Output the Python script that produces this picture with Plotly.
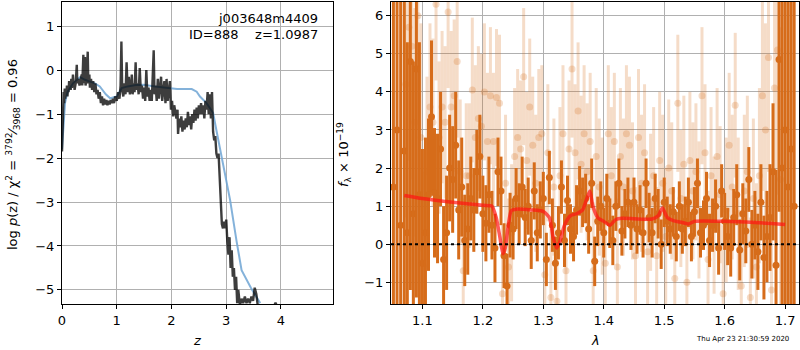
import plotly.graph_objects as go

# ---------------- Left panel: redshift probability ----------------
z_a = [0.00, 0.01, 0.02, 0.03, 0.04, 0.05, 0.06, 0.07, 0.08, 0.09,
       0.10, 0.11, 0.12, 0.13, 0.14, 0.15, 0.16, 0.17, 0.18, 0.19,
       0.20, 0.21, 0.22, 0.23, 0.25, 0.27, 0.28, 0.30, 0.32, 0.34,
       0.36, 0.37, 0.39, 0.40, 0.42, 0.43, 0.45, 0.47, 0.48, 0.50,
       0.51, 0.53, 0.55, 0.57, 0.59, 0.61, 0.63, 0.65, 0.67, 0.69,
       0.71, 0.73, 0.75, 0.77, 0.79, 0.81, 0.83, 0.85, 0.87, 0.89,
       0.91, 0.93, 0.95, 0.97, 0.99]
logp_a = [-1.85, -1.2, -0.8, -0.5, -0.75, -0.42, -0.65, -0.45, -0.55, -0.35,
          -0.6, -0.4, -0.5, -0.25, -0.45, -0.3, -0.45, -0.2, -0.4, -0.35,
          -0.1, -0.35, -0.25, -0.45, -0.3, 0.12, -0.3, -0.2, -0.35, -0.2,
          -0.1, -0.35, 0.35, -0.3, 0.3, -0.35, -0.2, 0.42, -0.3, -0.1,
          -0.4, -0.2, -0.45, -0.25, -0.5, -0.3, -0.55, -0.45, -0.65, -0.5,
          -0.75, -0.6, -0.8, -0.65, -0.78, -0.68, -0.8, -0.7, -0.78, -0.68,
          -0.75, -0.65, -0.75, -0.6, -0.7]
z_b = [1.00, 1.025, 1.05, 1.07, 1.085, 1.10, 1.12, 1.14, 1.16, 1.18,
       1.20, 1.22, 1.24, 1.26, 1.275, 1.29, 1.31, 1.325, 1.345, 1.36,
       1.38, 1.40, 1.42, 1.44, 1.46, 1.48, 1.50, 1.52, 1.54, 1.56,
       1.58, 1.60, 1.62, 1.64, 1.655, 1.675, 1.69, 1.71, 1.73, 1.75,
       1.77, 1.79, 1.81, 1.83, 1.85, 1.87, 1.89, 1.91, 1.93, 1.95,
       1.97, 1.99, 2.00]
logp_b = [-0.7, -0.5, -0.65, -0.35, 0.65, -0.45, -0.6, -0.3, -0.55, 0.18,
          -0.5, -0.15, -0.55, -0.35, -0.1, -0.55, -0.3, -0.5, 0.18, -0.45,
          -0.3, -0.55, 0.05, -0.5, -0.35, -0.65, -0.4, -0.7, 0.0, -0.6,
          -0.4, -0.7, -0.45, -0.7, -0.3, 0.45, -0.55, -0.35, -0.7, -0.2,
          -0.65, -0.4, -0.15, -0.7, -0.45, -0.25, -0.75, -0.2, -0.7, -0.5,
          -0.25, -0.9, -0.8]
z_c = [2.01, 2.03, 2.05, 2.07, 2.09, 2.11, 2.12,
       2.14, 2.16, 2.18, 2.20, 2.22, 2.24, 2.26, 2.28, 2.30, 2.32,
       2.34, 2.36, 2.38, 2.40, 2.42, 2.44, 2.46, 2.48, 2.50, 2.52,
       2.54, 2.56, 2.58, 2.60, 2.62, 2.64, 2.66, 2.68, 2.70, 2.72,
       2.74, 2.76, 2.78, 2.80, 2.82, 2.84, 2.86, 2.88, 2.90, 2.92,
       2.94, 2.96, 2.98, 3.00, 3.02, 3.04, 3.06, 3.08, 3.10, 3.12,
       3.14, 3.16, 3.18, 3.20, 3.22, 3.25, 3.28, 3.31, 3.34, 3.37,
       3.40, 3.43, 3.46, 3.49, 3.52, 3.55, 3.58]
logp_c = [-0.7, -1.05, -0.8, -0.95, -1.1, -0.9, -1.45,
          -1.1, -1.3, -1.05, -1.4, -1.15, -1.35, -1.1, -1.3, -0.95, -1.25,
          -1.05, -1.35, -1.0, -1.2, -0.9, -1.15, -0.85, -1.1, -0.8, -1.0,
          -0.75, -1.0, -0.8, -1.1, -0.7, -0.9, -0.5, -1.0, -0.55, -1.1,
          -0.5, -1.4, -1.6, -1.5, -1.9, -2.0, -1.9, -2.5, -3.0, -3.5,
          -3.6, -3.45, -3.6, -3.4, -3.9, -4.2, -3.8, -4.5, -4.1, -4.7,
          -4.5, -5.0, -4.7, -5.3, -5.0, -5.35, -5.2, -5.3, -5.15, -5.3,
          -5.2, -5.3, -5.15, -5.25, -4.95, -5.1, -5.4]
z_tail = [3.88, 3.90, 3.92]
logp_tail = [-5.35, -5.29, -5.35]

z_smooth = [0.00, 0.03, 0.055, 0.1, 0.2, 0.33, 0.42, 0.51, 0.6, 0.69,
            0.8, 0.88, 1.0, 1.09, 1.2, 1.35, 1.49, 1.7, 1.91, 2.1,
            2.22, 2.37, 2.46, 2.52, 2.64, 2.76, 2.83, 2.92, 3.0, 3.07,
            3.19, 3.28, 3.45, 3.62]
logp_smooth = [-1.8, -1.1, -0.75, -0.5, -0.3, -0.16, -0.22, -0.26, -0.3, -0.37,
               -0.55, -0.64, -0.6, -0.41, -0.37, -0.34, -0.33, -0.37, -0.41, -0.43,
               -0.43, -0.43, -0.49, -0.6, -0.75, -0.97, -1.43, -1.97, -2.5, -2.95,
               -3.9, -4.55, -4.95, -5.3]

# ---------------- Right panel: spectrum ----------------
dark_wave = [1.052, 1.058, 1.064,
             1.070, 1.075, 1.080, 1.085, 1.090, 1.095, 1.100, 1.105, 1.110, 1.115,
             1.120, 1.125, 1.130, 1.135, 1.140, 1.145, 1.150, 1.155, 1.160, 1.165,
             1.170, 1.175, 1.180, 1.185, 1.190, 1.195, 1.200, 1.205, 1.210, 1.215,
             1.220, 1.225, 1.230, 1.235, 1.240, 1.245, 1.250, 1.255, 1.260, 1.265,
             1.270, 1.275, 1.280, 1.285, 1.290, 1.295, 1.300, 1.305, 1.310, 1.315,
             1.320, 1.325, 1.330, 1.335, 1.340, 1.345, 1.350, 1.355, 1.360, 1.365,
             1.370, 1.375, 1.380, 1.385, 1.390, 1.395, 1.400, 1.405, 1.410, 1.415,
             1.420, 1.425, 1.430, 1.435, 1.440, 1.445, 1.450, 1.455, 1.460, 1.465,
             1.470, 1.475, 1.480, 1.485, 1.490, 1.495, 1.500, 1.505, 1.510, 1.515,
             1.520, 1.525, 1.530, 1.535, 1.540, 1.545, 1.550, 1.555, 1.560, 1.565,
             1.570, 1.575, 1.580, 1.585, 1.590, 1.595, 1.600, 1.605, 1.610, 1.615,
             1.620, 1.625, 1.630, 1.635, 1.640, 1.645, 1.650, 1.655, 1.660, 1.665,
             1.670, 1.675, 1.680, 1.685, 1.690, 1.695, 1.700, 1.705, 1.710, 1.715]
dark_flux = [1.5, 3.0, 0.5,
             2.45, 0.3, 4.8, 0.8, 4.6, 1.3, -0.5, 0.3, 1.3, 3.35,
             1.35, 1.2, 2.5, -0.4, 0.3, 2.0, 1.7, 2.6, 0.9, 1.5,
             0.1, 0.4, 1.2, 0.9, 1.9, 2.3, 0.8, 0.55, 1.3, 0.5,
             -0.1, 1.9, 1.4, -0.3, -1.1, 0.5, 0.4, 1.2, 0.8, 1.5,
             0.7, 1.0, 0.1, 1.4, 0.3, 0.9, 1.2, -0.4, 1.75, 0.5,
             -0.5, 0.3, 1.5, 0.1, 1.15, 0.4, 0.2, 0.9, 1.4, 1.1,
             1.2, 0.4, 1.6, -0.45, 0.6, 1.0, 0.3, 1.2, 0.55, 0.1,
             1.0, 1.6, 0.35, 0.8, 1.1, 0.5, 1.1, 0.4, 0.9, 0.3,
             1.6, 0.7, 0.3, 1.2, 0.8, 0.0, 1.1, 0.6, 0.4, 0.85,
             0.2, 1.0, 0.4, 0.6, 1.1, 0.2, 0.85, 1.6, 0.3, 0.5,
             1.2, 0.1, 0.5, 1.0, -0.1, 1.4, 0.6, 0.2, -0.1, 0.7,
             1.3, -0.15, 0.8, 0.35, 1.7, 0.0, 0.5, -0.2, 1.1, -0.35,
             0.2, 0.7, 1.9, -0.55, 4.85, 2.0, 3.0, 1.5, 2.5, 1.0]
dark_err = [10, 10, 10,
            6, 5, 6, 4, 6, 4, 3, 2.5, 2, 2,
            1.7, 1.7, 1.5, 1.4, 1.5, 1.4, 1.4, 1.4, 1.3, 1.3,
            1.2, 1.2, 1.1, 1.1, 1.1, 1.1, 1.0, 1.0, 1.0, 0.9,
            0.9, 0.9, 0.9, 0.85, 0.85, 0.85, 0.8, 0.8, 0.8, 0.8,
            0.75, 0.75, 0.75, 0.75, 0.75, 0.75, 0.7, 0.7, 0.7, 0.7,
            0.7, 0.7, 0.7, 0.7, 0.65, 0.65, 0.65, 0.65, 0.65, 0.65,
            0.65, 0.65, 0.65, 0.65, 0.65, 0.65, 0.65, 0.65, 0.65, 0.65,
            0.65, 0.65, 0.65, 0.65, 0.65, 0.65, 0.65, 0.65, 0.65, 0.65,
            0.65, 0.65, 0.65, 0.65, 0.65, 0.65, 0.65, 0.65, 0.65, 0.65,
            0.65, 0.65, 0.65, 0.65, 0.65, 0.65, 0.65, 0.65, 0.65, 0.65,
            0.7, 0.7, 0.7, 0.7, 0.7, 0.7, 0.75, 0.75, 0.75, 0.75,
            0.8, 0.8, 0.8, 0.85, 0.85, 0.9, 0.9, 1.0, 1.0, 1.1,
            1.2, 1.4, 1.8, 2.5, 4, 8, 10, 10, 10, 10]

light_wave = [1.0725, 1.0775, 1.0825, 1.0875, 1.0925, 1.0975, 1.1025, 1.1075, 1.1125, 1.1175,
              1.1225, 1.1275, 1.1325, 1.1375, 1.1425, 1.1475, 1.1525, 1.1575, 1.1625, 1.1675,
              1.1725, 1.1775, 1.1825, 1.1875, 1.1925, 1.1975, 1.2025, 1.2075, 1.2125, 1.2175,
              1.2225, 1.2275, 1.2325, 1.2375, 1.2425, 1.2475, 1.2525, 1.2575, 1.2625, 1.2675,
              1.2725, 1.2775, 1.2825, 1.2875, 1.2925, 1.2975, 1.3025, 1.3075, 1.3125, 1.3175,
              1.3225, 1.3275, 1.3325, 1.3375, 1.3425, 1.3475, 1.3525, 1.3575, 1.3625, 1.3675,
              1.3725, 1.3775, 1.3825, 1.3875, 1.3925, 1.3975, 1.4025, 1.4075, 1.4125, 1.4175,
              1.4225, 1.4275, 1.4325, 1.4375, 1.4425, 1.4475, 1.4525, 1.4575, 1.4625, 1.4675,
              1.4725, 1.4775, 1.4825, 1.4875, 1.4925, 1.4975, 1.5025, 1.5075, 1.5125, 1.5175,
              1.5225, 1.5275, 1.5325, 1.5375, 1.5425, 1.5475, 1.5525, 1.5575, 1.5625, 1.5675,
              1.5725, 1.5775, 1.5825, 1.5875, 1.5925, 1.5975, 1.6025, 1.6075, 1.6125, 1.6175,
              1.6225, 1.6275, 1.6325, 1.6375, 1.6425, 1.6475, 1.6525, 1.6575, 1.6625, 1.6675,
              1.6725, 1.6775, 1.6825, 1.6875, 1.6925]
light_flux = [4.2, 5.7, 5.2, 3.2, 6.0, 2.8, -0.6, 1.9, 3.6, 3.2,
              6.3, 2.8, 3.6, 3.2, 6.1, 3.6, 3.9, 4.8, 1.9, -0.7,
              1.8, 1.8, 4.05, 2.8, 3.3, 3.1, 4.0, 2.7, 3.9, 2.7,
              3.85, 3.7, -1.3, 1.6, -0.6, 0.3, 2.3, 2.8, 2.5, 4.4,
              2.2, 3.6, 2.6, 1.6, 2.8, 2.9, -0.8, 2.4, -1.4, 1.5,
              -1.5, 1.8, 2.9, -0.7, 2.5, 4.6, 2.4, 3.5, 2.1, 2.9,
              1.9, 2.7, -0.7, 2.3, 1.5, 1.0, -0.5, 2.9, 1.8, 2.7,
              -0.6, 2.3, 1.5, 2.9, 2.6, 1.4, -0.3, 2.8, 1.6, 2.4,
              -0.2, 1.1, 1.8, -0.3, 2.2, 1.6, 0.2, 2.0, 1.4, -0.9,
              3.7, 1.2, 2.1, -1.0, 2.2, 1.4, 1.9, 0.9, 3.9, 2.4,
              -0.4, 1.8, 0.5, 2.3, 1.3, -1.3, 0.9, 2.6, 1.5, 3.65,
              0.8, -1.1, 1.4, 1.9, -1.4, 1.2, -0.6, 1.8, 3.9, 3.0,
              4.9, -1.2, 4.1, 5.1, 1.7]
light_err = [3.5, 3.5, 3.5, 3.0, 3.0, 3.0, 2.5, 2.5, 2.2, 2.2,
             2.0, 2.0, 2.0, 2.0, 2.0, 2.0, 2.0, 2.0, 1.9, 1.9,
             1.9, 1.9, 1.9, 1.9, 1.9, 1.9, 1.8, 1.8, 1.8, 1.8,
             1.8, 1.8, 1.8, 1.8, 1.8, 1.8, 1.8, 1.8, 1.8, 1.8,
             1.8, 1.8, 1.8, 1.8, 1.8, 1.8, 1.8, 1.8, 1.8, 1.8,
             1.8, 1.8, 1.8, 1.8, 1.8, 1.8, 1.8, 1.8, 1.8, 1.8,
             1.8, 1.8, 1.8, 1.8, 1.8, 1.8, 1.8, 1.8, 1.8, 1.8,
             1.8, 1.8, 1.8, 1.8, 1.8, 1.8, 1.8, 1.8, 1.8, 1.8,
             1.8, 1.8, 1.8, 1.8, 1.8, 1.8, 1.8, 1.8, 1.8, 1.8,
             1.8, 1.8, 1.8, 1.8, 1.8, 1.8, 1.8, 1.8, 1.8, 1.8,
             1.8, 1.8, 1.8, 1.8, 1.8, 1.8, 1.9, 1.9, 1.9, 1.9,
             2.0, 2.0, 2.0, 2.0, 2.1, 2.1, 2.2, 2.3, 2.5, 2.8,
             3.0, 3.3, 3.5, 3.8, 4.0]

model_wave = [1.070, 1.100, 1.150, 1.200, 1.215, 1.222, 1.228, 1.233, 1.237, 1.242,
              1.247, 1.255, 1.280, 1.300, 1.310, 1.316, 1.322, 1.327, 1.335, 1.345,
              1.355, 1.365, 1.372, 1.377, 1.382, 1.390, 1.400, 1.410, 1.420, 1.430,
              1.450, 1.480, 1.490, 1.497, 1.505, 1.515, 1.530, 1.540, 1.550, 1.600,
              1.650, 1.700]
model_flux = [1.28, 1.2, 1.1, 1.02, 1.0, 0.7, 0.2, -0.25, -0.1, 0.5,
              0.88, 0.92, 0.9, 0.86, 0.7, 0.2, -0.1, 0.05, 0.5, 0.75,
              0.8, 0.9, 1.2, 1.4, 1.0, 0.7, 0.6, 0.5, 0.65, 0.68,
              0.67, 0.66, 0.75, 0.95, 0.7, 0.62, 0.57, 0.53, 0.6, 0.6,
              0.57, 0.52]

title_lines = ["j003648m4409", "ID=888    z=1.0987"]
timestamp = "Thu Apr 23 21:30:59 2020"

ORANGE = "rgb(214,108,26)"
LIGHT = "rgba(214,108,26,0.24)"
FONT = "DejaVu Sans"

W, H = 800, 350
def px(x):
    return x / W
def py(y):
    return 1 - y / H

fig = go.Figure()

z_pz = z_a + z_b + z_c
logp = logp_a + logp_b + logp_c

# left panel
fig.add_trace(go.Scatter(x=z_smooth, y=logp_smooth, mode="lines",
                         line=dict(color="rgba(110,165,212,0.85)", width=2),
                         xaxis="x", yaxis="y", hoverinfo="skip"))
fig.add_trace(go.Scatter(x=z_pz, y=logp, mode="lines",
                         line=dict(color="rgba(0,0,0,0.76)", width=2.4),
                         xaxis="x", yaxis="y", hoverinfo="skip"))
fig.add_trace(go.Scatter(x=z_tail, y=logp_tail, mode="lines",
                         line=dict(color="rgba(0,0,0,0.76)", width=2.4),
                         xaxis="x", yaxis="y", hoverinfo="skip"))

# right panel
fig.add_trace(go.Scatter(x=light_wave, y=light_flux, mode="markers",
                         marker=dict(color=LIGHT, size=7, line=dict(width=0)),
                         error_y=dict(type="data", array=light_err, color=LIGHT,
                                      thickness=3, width=0),
                         xaxis="x2", yaxis="y2", hoverinfo="skip"))
fig.add_trace(go.Scatter(x=dark_wave, y=dark_flux, mode="markers",
                         marker=dict(color=ORANGE, size=7, line=dict(width=0)),
                         error_y=dict(type="data", array=dark_err, color=ORANGE,
                                      thickness=3, width=0),
                         xaxis="x2", yaxis="y2", hoverinfo="skip"))
fig.add_trace(go.Scatter(x=model_wave, y=model_flux, mode="lines",
                         line=dict(color="rgba(255,20,20,0.7)", width=3.5, shape="spline",
                                   smoothing=0.6),
                         xaxis="x2", yaxis="y2", hoverinfo="skip"))

axis_common = dict(showgrid=True, gridcolor="#b0b0b0", gridwidth=1,
                   showline=True, linecolor="black", linewidth=1.2, mirror=True,
                   ticks="outside", ticklen=4, tickcolor="black",
                   tickfont=dict(family=FONT, size=13, color="black"),
                   zeroline=False, automargin=False)

yb, yt = py(304), py(2)
fig.update_layout(
    width=W, height=H, margin=dict(l=0, r=0, t=0, b=0),
    paper_bgcolor="white", plot_bgcolor="white", showlegend=False,
    font=dict(family=FONT, color="black"),
    xaxis=dict(domain=[px(62), px(333)], range=[0, 4.95], tickvals=[0, 1, 2, 3, 4],
               anchor="y", **axis_common),
    yaxis=dict(domain=[yb, yt], range=[-5.32, 1.55], tickvals=[-5, -4, -3, -2, -1, 0, 1],
               ticktext=["\u22125", "\u22124", "\u22123", "\u22122", "\u22121", "0", "1"],
               anchor="x", **axis_common),
    xaxis2=dict(domain=[px(391), px(799)], range=[1.048, 1.723],
                tickvals=[1.1, 1.2, 1.3, 1.4, 1.5, 1.6, 1.7], anchor="y2", **axis_common),
    yaxis2=dict(domain=[yb, yt], range=[-1.57, 6.36], tickvals=[-1, 0, 1, 2, 3, 4, 5, 6],
                ticktext=["\u22121", "0", "1", "2", "3", "4", "5", "6"],
                anchor="x2", **axis_common),
)

fig.add_shape(type="line", xref="x2 domain", yref="y2", x0=0, x1=1, y0=0, y1=0,
              line=dict(color="black", width=2, dash="dot"), layer="above")

ann = [
    dict(text=title_lines[0], x=px(320), y=py(19), xanchor="right", yanchor="middle"),
    dict(text=title_lines[1], x=px(320), y=py(35), xanchor="right", yanchor="middle"),
    dict(text="<i>z</i>", x=px(197), y=py(340), xanchor="center", yanchor="middle"),
    dict(text="<i>\u03bb</i>", x=px(595), y=py(340), xanchor="center", yanchor="middle"),
    dict(text="log <i>p</i>(z) / \u03c7<sup>2</sup> = <sup>3792</sup>\u2044<sub>3968</sub> = 0.96",
         x=px(13), y=py(155), textangle=-90, xanchor="center", yanchor="middle"),
    dict(text="<i>f</i><sub>\u03bb</sub> \u00d7 10<sup>\u221219</sup>",
         x=px(344), y=py(155), textangle=-90, xanchor="center", yanchor="middle"),
]
for a in ann:
    fig.add_annotation(xref="paper", yref="paper", showarrow=False,
                       font=dict(family=FONT, size=13, color="black"), **a)
fig.add_annotation(xref="paper", yref="paper", showarrow=False, text=timestamp,
                   x=px(742), y=py(339), xanchor="center", yanchor="middle",
                   font=dict(family=FONT, size=7, color="black"))

fig.write_html("out.html", config={"displayModeBar": False},
               post_script="document.body.style.margin='0';document.body.style.overflow='hidden';")
